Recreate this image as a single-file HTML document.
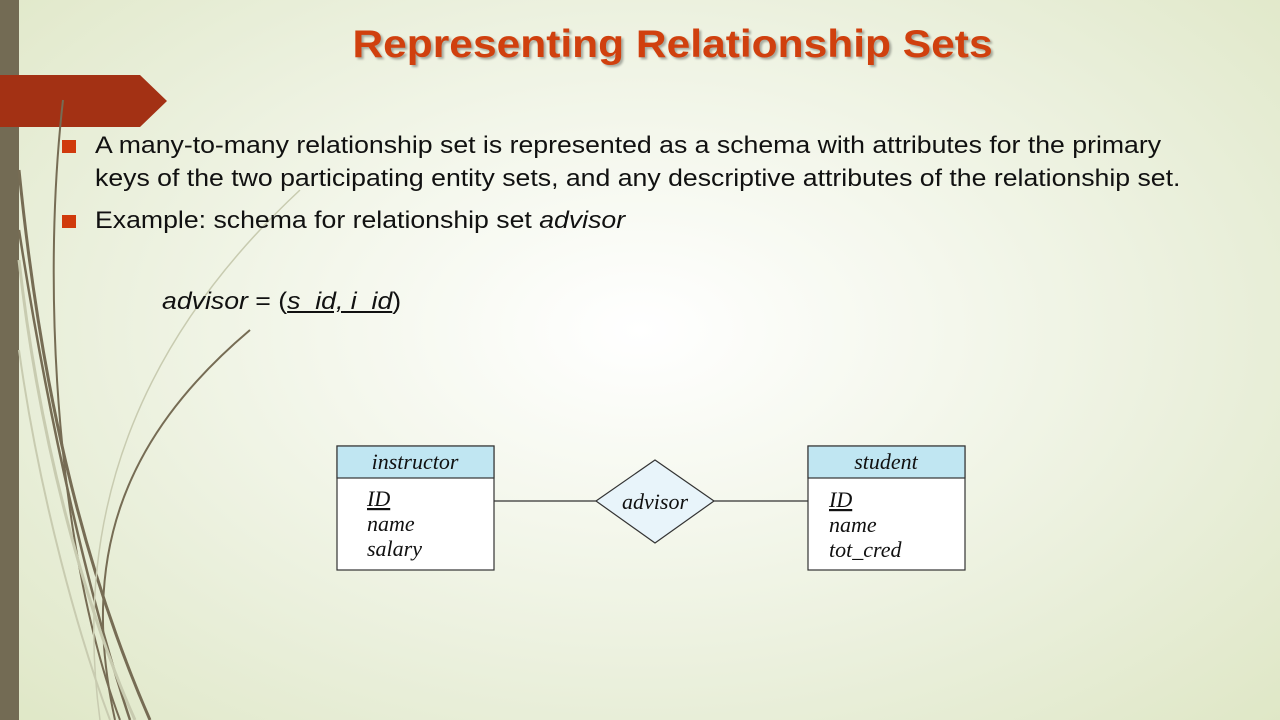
<!DOCTYPE html>
<html><head><meta charset="utf-8"><style>
html,body{margin:0;padding:0}
body{width:1280px;height:720px;position:relative;overflow:hidden;
background:radial-gradient(ellipse 900px 560px at 640px 330px,#ffffff 0%,#f4f7ec 35%,#e8eed8 70%,#dfe7c6 100%);
font-family:"Liberation Sans",sans-serif}
.t{position:absolute;white-space:nowrap}
.title{left:0;width:1345px;text-align:center;top:23px;font-size:39px;font-weight:bold;color:#d0400e;transform:scaleX(1.09);transform-origin:672px 0;text-shadow:2px 2px 2px rgba(0,0,0,0.3)}
.b{font-size:24px;color:#111;left:95px;transform:scaleX(1.11);transform-origin:0 0}
.sq{position:absolute;left:62px;width:14px;height:13px;background:#d03a0c}
</style></head><body>
<svg width="1280" height="720" style="position:absolute;left:0;top:0">
<rect x="0" y="0" width="19" height="720" fill="#736b54"/>
<polygon points="0,75 140,75 167,101 140,127 0,127" fill="#a33114"/>
<g fill="none" stroke="#766c54">
<path d="M19,170 C40,380 80,560 150,720" stroke-width="3"/>
<path d="M19,230 C50,430 90,600 130,720" stroke-width="2.5"/>
<path d="M63,100 C40,300 60,560 120,720" stroke-width="2"/>
<path d="M250,330 C120,440 80,560 115,720" stroke-width="2"/>
</g>
<g fill="none" stroke="#c8cbb0">
<path d="M19,260 C40,450 90,620 135,720" stroke-width="3"/>
<path d="M300,190 C150,330 70,500 100,720" stroke-width="1.5"/>
<path d="M19,350 C40,500 80,640 110,720" stroke-width="2"/>
</g>
<line x1="494" y1="501" x2="596" y2="501" stroke="#333" stroke-width="1.3"/>
<line x1="714" y1="501" x2="808" y2="501" stroke="#333" stroke-width="1.3"/>
<rect x="337" y="446" width="157" height="124" fill="#fff" stroke="#333" stroke-width="1.2"/>
<rect x="337" y="446" width="157" height="32" fill="#c0e6f2" stroke="#333" stroke-width="1.2"/>
<rect x="808" y="446" width="157" height="124" fill="#fff" stroke="#333" stroke-width="1.2"/>
<rect x="808" y="446" width="157" height="32" fill="#c0e6f2" stroke="#333" stroke-width="1.2"/>
<polygon points="596,501 655,460 714,501 655,543" fill="#e8f4fa" stroke="#333" stroke-width="1.2"/>
<g font-family="Liberation Serif,serif" font-style="italic" font-size="22" fill="#111">
<text x="415" y="469" text-anchor="middle">instructor</text>
<text x="886" y="469" text-anchor="middle">student</text>
<text x="655" y="509" text-anchor="middle">advisor</text>
<text x="367" y="506" text-decoration="underline">ID</text>
<text x="367" y="531">name</text>
<text x="367" y="556">salary</text>
<text x="829" y="507" text-decoration="underline">ID</text>
<text x="829" y="532">name</text>
<text x="829" y="557">tot_cred</text>
</g>
</svg>
<div class="t title">Representing Relationship Sets</div>
<div class="sq" style="top:140px"></div>
<div class="sq" style="top:215px"></div>
<div class="t b" style="top:132px">A many-to-many relationship set is represented as a schema with attributes for the primary</div>
<div class="t b" style="top:165px">keys of the two participating entity sets, and any descriptive attributes of the relationship set.</div>
<div class="t b" style="top:207px">Example: schema for relationship set <i>advisor</i></div>
<div class="t b" style="left:162px;top:288px"><i>advisor</i> = (<u><i>s_id, i_id</i></u>)</div>
</body></html>
